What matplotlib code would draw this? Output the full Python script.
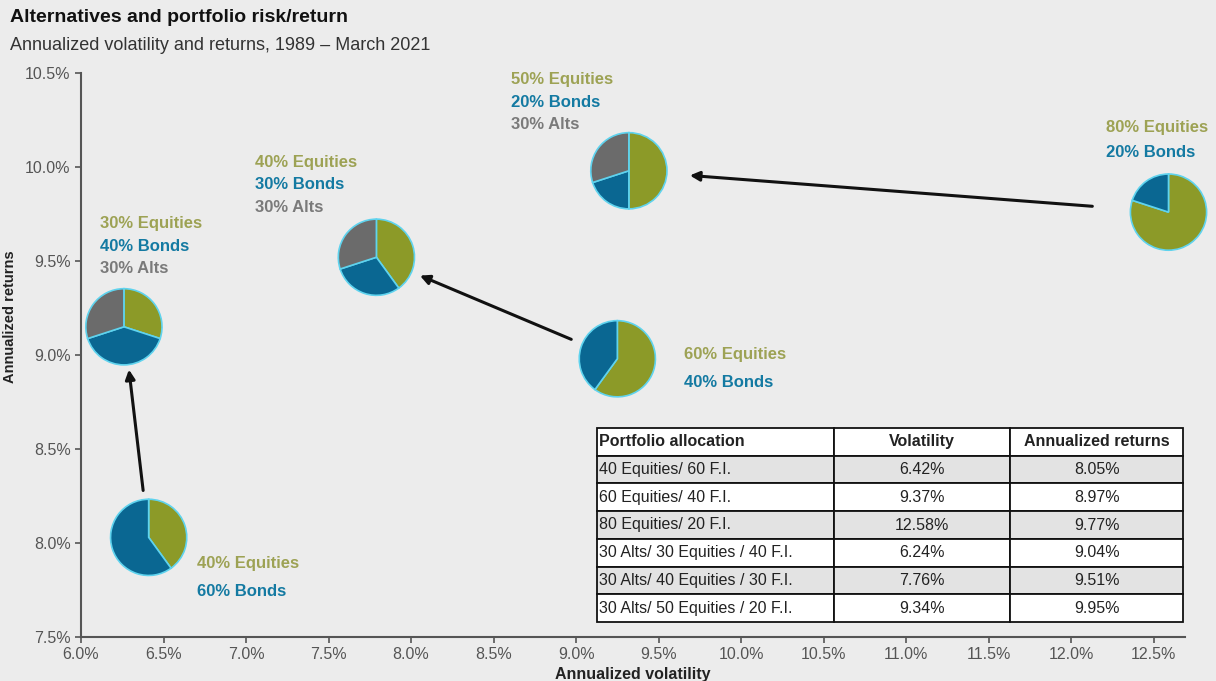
import numpy as np
import matplotlib
matplotlib.use("Agg")
import matplotlib.pyplot as plt
from matplotlib.table import Table

plt.rcParams['font.family'] = ['Liberation Sans', 'DejaVu Sans']

# portfolios, as drawn (pie centres)
portfolios = ["40 Equities/ 60 F.I.", "30 Alts/ 30 Equities / 40 F.I.",
              "30 Alts/ 40 Equities / 30 F.I.", "60 Equities/ 40 F.I.",
              "30 Alts/ 50 Equities / 20 F.I.", "80 Equities/ 20 F.I."]
pie_vol = [6.41, 6.26, 7.79, 9.25, 9.32, 12.59]
pie_ret = [8.03, 9.15, 9.52, 8.98, 9.98, 9.76]
equities = [40, 30, 40, 60, 50, 80]
bonds = [60, 40, 30, 40, 20, 20]
alts = [0, 30, 30, 0, 30, 0]

# arrows: from portfolio index -> to portfolio index
arrow_from = [0, 3, 5]
arrow_to = [1, 2, 4]

# table
table_rows = ["40 Equities/ 60 F.I.", "60 Equities/ 40 F.I.", "80 Equities/ 20 F.I.",
              "30 Alts/ 30 Equities / 40 F.I.", "30 Alts/ 40 Equities / 30 F.I.",
              "30 Alts/ 50 Equities / 20 F.I."]
table_vol = ["6.42%", "9.37%", "12.58%", "6.24%", "7.76%", "9.34%"]
table_ret = ["8.05%", "8.97%", "9.77%", "9.04%", "9.51%", "9.95%"]
table_cols = ["Portfolio allocation", "Volatility", "Annualized returns"]

x_ticks = np.arange(6.0, 12.51, 0.5)
y_ticks = np.arange(7.5, 10.51, 0.5)

eq_col = '#8c9a28'
bd_col = '#0a6792'
al_col = '#6b6b6b'
eq_txt = '#9da254'
bd_txt = '#147aa2'
al_txt = '#7a7a7a'
bg = '#ececec'

W, H = 1216, 681
fig = plt.figure(figsize=(W / 100, H / 100), dpi=100, facecolor=bg)
ax = fig.add_axes([81 / W, 1 - 637 / H, (1185 - 81) / W, (637 - 73) / H])
ax.set_facecolor(bg)
ax.set_xlim(6.0, 12.69)
ax.set_ylim(7.5, 10.5)
ax.set_xticks(x_ticks)
ax.set_xticklabels(["%.1f%%" % v for v in x_ticks])
ax.set_yticks(y_ticks)
ax.set_yticklabels(["%.1f%%" % v for v in y_ticks])
for s in ['top', 'right']:
    ax.spines[s].set_visible(False)
for s in ['left', 'bottom']:
    ax.spines[s].set_color('#555555')
    ax.spines[s].set_linewidth(1.5)
ax.tick_params(direction='out', length=4, width=1.2, color='#555555',
               labelcolor='#555555', labelsize=11.5)
ax.tick_params(axis='x', pad=3)
ax.set_xlabel("Annualized volatility", fontsize=11.5, fontweight='bold', color='#222222', labelpad=4)
ax.set_ylabel("Annualized returns", fontsize=10.5, fontweight='bold', color='#222222')
ax.yaxis.set_label_coords(-0.058, (637 - 317) / 564)

fig.text(10 / W, 1 - 18 / H, "Alternatives and portfolio risk/return", fontsize=14,
         fontweight='bold', color='#111111', va='center')
fig.text(10 / W, 1 - 45 / H, "Annualized volatility and returns, 1989 \u2013 March 2021",
         fontsize=13, color='#333333', va='center')

# arrows (shrinks in points)
shrink_tail = [34, 36, 55]
shrink_head = [31, 34, 44]
for a, b, sa, sb in zip(arrow_from, arrow_to, shrink_tail, shrink_head):
    ax.annotate("", xy=(pie_vol[b], pie_ret[b]), xytext=(pie_vol[a], pie_ret[a]),
                arrowprops=dict(arrowstyle='-|>', color='#111111', lw=2.2,
                                shrinkA=sa, shrinkB=sb, mutation_scale=14))

# pies
r = 40
fig.canvas.draw()
for i in range(len(pie_vol)):
    px, py = ax.transData.transform((pie_vol[i], pie_ret[i]))
    pax = fig.add_axes([(px - r) / W, (py - r) / H, 2 * r / W, 2 * r / H])
    vals = [equities[i], bonds[i], alts[i]]
    cols = [eq_col, bd_col, al_col]
    keep = [k for k in range(3) if vals[k] > 0]
    pax.pie([vals[k] for k in keep], colors=[cols[k] for k in keep], startangle=90,
            counterclock=False, radius=1.0,
            wedgeprops=dict(edgecolor='#5fd3ee', linewidth=1.2))
    pax.set_xlim(-1.05, 1.05)
    pax.set_ylim(-1.05, 1.05)
    pax.axis('off')

# pie labels: offsets in pixels from pie centre (x, first line y, line step)
lab_dx = [48, -24, -121, 67, -118, -62]
lab_dy = [-26, 103, 95, 4, 91, 85]
lab_step = [28, 22.5, 22.5, 28, 22.5, 25]
for i in range(len(pie_vol)):
    lines = [("%d%% Equities" % equities[i], eq_txt), ("%d%% Bonds" % bonds[i], bd_txt)]
    if alts[i] > 0:
        lines.append(("%d%% Alts" % alts[i], al_txt))
    for j, (t, c) in enumerate(lines):
        ax.annotate(t, xy=(pie_vol[i], pie_ret[i]), xytext=(lab_dx[i], lab_dy[i] - j * lab_step[i]),
                    textcoords='offset pixels', ha='left', va='center', fontsize=12,
                    fontweight='bold', color=c)

# table
tl, tr, tt, tb = 597, 1183, 428, 622
tbl = Table(ax, bbox=[(tl - 81) / 1104, (637 - tb) / 564, (tr - tl) / 1104, (tb - tt) / 564])
col_w = [0.405, 0.30, 0.295]
nrow = len(table_rows) + 1
rh = 1.0 / nrow
for c, name in enumerate(table_cols):
    cell = tbl.add_cell(0, c, col_w[c], rh, text=name, loc='left' if c == 0 else 'center',
                        facecolor='white', edgecolor='#111111')
    cell.get_text().set_fontweight('bold')
for r_i in range(len(table_rows)):
    fc = '#e3e3e3' if r_i % 2 == 0 else 'white'
    texts = [table_rows[r_i], table_vol[r_i], table_ret[r_i]]
    for c in range(3):
        tbl.add_cell(r_i + 1, c, col_w[c], rh, text=texts[c], loc='left' if c == 0 else 'center',
                     facecolor=fc, edgecolor='#111111')
for cell in tbl.get_celld().values():
    cell.PAD = 0.01
    cell.set_linewidth(1.3)
    cell.get_text().set_color('#222222')
tbl.auto_set_font_size(False)
tbl.set_fontsize(11.5)
ax.add_table(tbl)

fig.savefig("out.png", dpi=100, facecolor=bg)
